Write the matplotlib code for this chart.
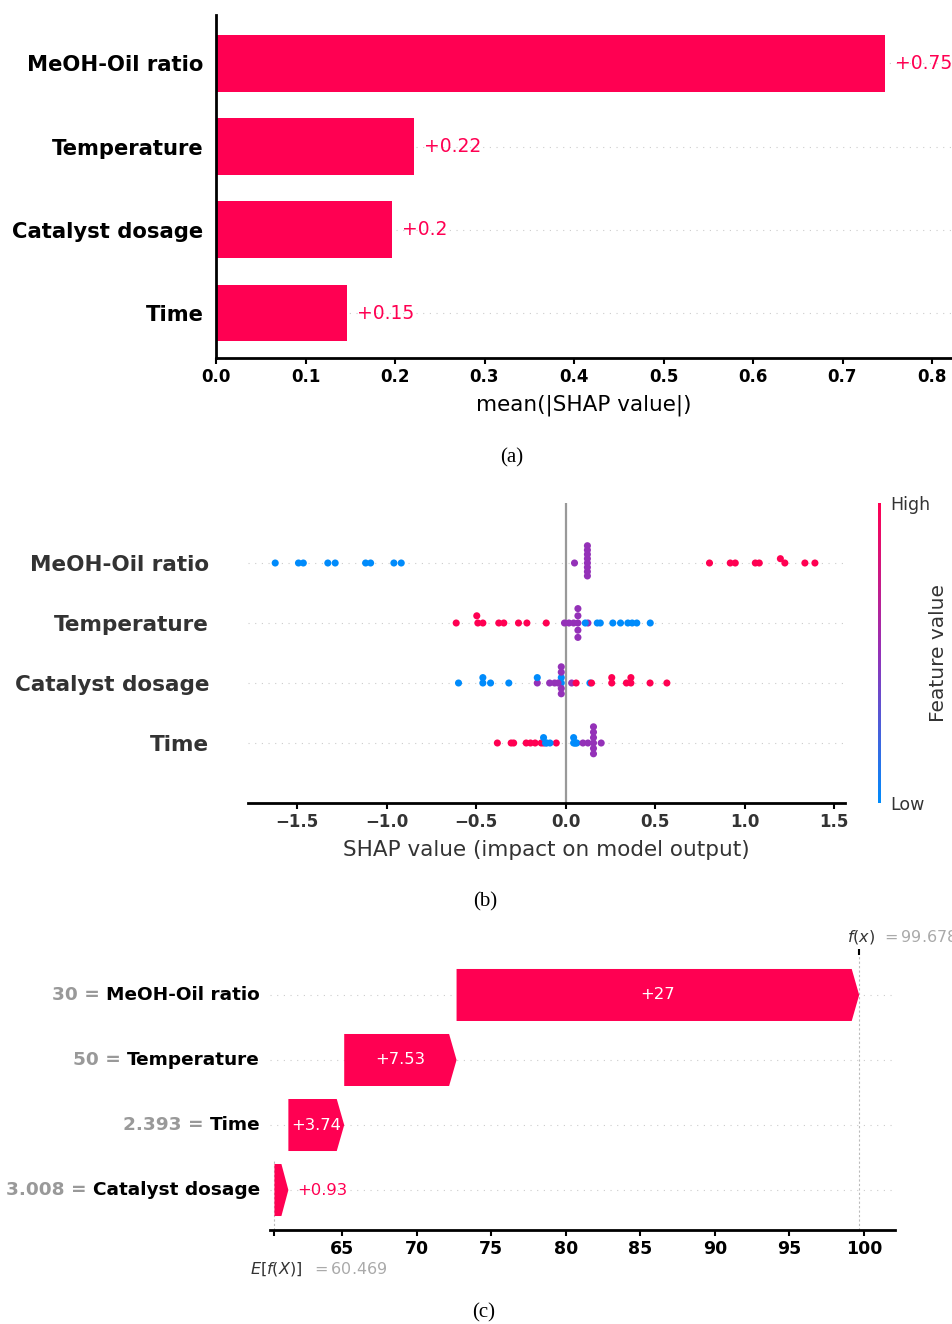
import numpy as np
import matplotlib
matplotlib.use("Agg")
import matplotlib.pyplot as plt
import matplotlib.transforms as mtransforms
from matplotlib.colors import LinearSegmentedColormap, Normalize
from matplotlib.cm import ScalarMappable
from matplotlib.patches import FancyArrow

# ---------------- data ----------------
features = ["MeOH-Oil ratio", "Temperature", "Catalyst dosage", "Time"]

# (a) mean(|SHAP value|)
mean_abs_shap = [0.748, 0.221, 0.197, 0.146]
bar_xticks = [0.0, 0.1, 0.2, 0.3, 0.4, 0.5, 0.6, 0.7, 0.8]

# (b) SHAP value per sample, feature level 0 = low, 1 = mid, 2 = high
meoh_shap = [-1.622, -1.492, -1.465, -1.328, -1.287, -1.117, -1.089, -0.959, -0.918,
             0.050, 0.122, 0.122, 0.122, 0.122, 0.122, 0.122, 0.122, 0.122,
             0.804, 0.920, 0.948, 1.060, 1.082, 1.225, 1.200, 1.337, 1.393]
meoh_level = [0] * 9 + [1] * 9 + [2] * 9

temp_shap = [-0.611, -0.490, -0.496, -0.462, -0.373, -0.345, -0.263, -0.216, -0.108,
             -0.006, 0.019, 0.045, 0.069, 0.069, 0.069, 0.069, 0.069, 0.125,
             0.110, 0.177, 0.194, 0.264, 0.307, 0.348, 0.372, 0.398, 0.473]
temp_level = [2] * 9 + [1] * 9 + [0] * 9

cat_shap = [-0.158,
            -0.598, -0.462, -0.462, -0.419, -0.317, -0.158, -0.024, -0.024, 0.136,
            -0.089, -0.061, -0.042, -0.024, -0.024, -0.024, -0.024, 0.034,
            0.059, 0.145, 0.258, 0.258, 0.340, 0.365, 0.365, 0.472, 0.566]
cat_level = [1] + [0] * 9 + [1] * 8 + [2] * 9

time_shap = [-0.381, -0.304, -0.290, -0.220, -0.196, -0.170, -0.136, -0.123, -0.052,
             -0.123, -0.112, -0.105, -0.087, 0.045, 0.045, 0.051, 0.057, 0.063,
             0.097, 0.125, 0.156, 0.156, 0.156, 0.156, 0.156, 0.156, 0.199]
time_level = [2] * 9 + [0] * 9 + [1] * 9

swarm_xticks = [-1.5, -1.0, -0.5, 0.0, 0.5, 1.0, 1.5]

# (c) waterfall for one sample (top to bottom)
wf_features = ["MeOH-Oil ratio", "Temperature", "Time", "Catalyst dosage"]
wf_values = ["30", "50", "2.393", "3.008"]
wf_shap = [26.998, 7.534, 3.744, 0.933]
base_value = 60.469
fx_value = 99.678
wf_xticks = [65, 70, 75, 80, 85, 90, 95, 100]

# ---------------- style ----------------
RED = "#ff0052"
cmap = LinearSegmentedColormap.from_list("red_blue", ["#008bfb", "#9431b8", "#ff0052"])
norm = Normalize(0, 2)
W, H = 952, 1324


def fmt(v):
    s = "%+0.2f" % v
    if "." in s:
        s = s.rstrip("0").rstrip(".")
    return s


def px_axes(left, top, right, bottom):
    return fig.add_axes([left / W, 1 - bottom / H, (right - left) / W, (bottom - top) / H])


def swarm(vals, nbins=100, row_height=0.4):
    # beeswarm offsets, same idea as shap
    vals = np.asarray(vals, dtype=float)
    quant = np.round(nbins * (vals - vals.min()) / (vals.max() - vals.min() + 1e-8))
    order = np.argsort(quant, kind="stable")
    ys = np.zeros(len(vals))
    layer = 0
    last = -1
    for i in order:
        if quant[i] != last:
            layer = 0
        ys[i] = np.ceil(layer / 2) * ((layer % 2) * 2 - 1)
        layer += 1
        last = quant[i]
    ys *= 0.9 * (row_height / np.max(ys + 1))
    return ys


fig = plt.figure(figsize=(W / 100, H / 100), dpi=100)
renderer = fig.canvas.get_renderer()

# ---------------- (a) bar ----------------
ax = px_axes(216, 15, 952, 358)
pos = [3, 2, 1, 0]
for p in pos:
    ax.axhline(p, color="#cccccc", lw=0.8, dashes=(1, 5), zorder=0)
ax.barh(pos, mean_abs_shap, height=0.68, color=RED, zorder=2)
off = mtransforms.offset_copy(ax.transData, fig=fig, x=10, y=0, units="dots")
for p, v in zip(pos, mean_abs_shap):
    ax.text(v, p, fmt(v), transform=off, color=RED, va="center", ha="left", fontsize=13.5)
ax.set_xlim(0, (952 - 216) / 895)
ax.set_ylim(-0.54, 3.58)
ax.set_yticks(pos, labels=features, fontsize=15.2, fontweight="bold")
ax.set_xticks(bar_xticks, labels=["%.1f" % t for t in bar_xticks], fontsize=12, fontweight="bold")
ax.tick_params(axis="y", length=0, pad=9)
ax.tick_params(axis="x", length=4, width=1.5)
for s in ["top", "right"]:
    ax.spines[s].set_visible(False)
for s in ["left", "bottom"]:
    ax.spines[s].set_linewidth(2)
ax.set_xlabel("mean(|SHAP value|)", fontsize=15.5, labelpad=6)

# ---------------- (b) beeswarm ----------------
ax = px_axes(248, 503, 845, 803)
rows = [(meoh_shap, meoh_level), (temp_shap, temp_level),
        (cat_shap, cat_level), (time_shap, time_level)]
ax.axvline(0, color="#999999", lw=1.6, zorder=1)
for p, (sv, lv) in zip(pos, rows):
    ax.axhline(p, color="#cccccc", lw=0.8, dashes=(1, 5), zorder=0)
    ys = swarm(sv)
    ax.scatter(sv, p + ys, c=lv, cmap=cmap, norm=norm, s=26, linewidths=0, zorder=3)
ax.set_xlim(-1.774, 1.561)
ax.set_ylim(-1, 4)
ax.set_yticks(pos, labels=features, fontsize=15.5, fontweight="bold", color="#333333")
ax.set_xticks(swarm_xticks, labels=[("%.1f" % t).replace("-", "\u2212") for t in swarm_xticks],
              fontsize=12, fontweight="bold", color="#333333")
ax.tick_params(axis="y", length=0, pad=28)
ax.tick_params(axis="x", length=4, width=1.5)
for s in ["top", "right", "left"]:
    ax.spines[s].set_visible(False)
ax.spines["bottom"].set_linewidth(2)
ax.set_xlabel("SHAP value (impact on model output)", fontsize=15.5, color="#333333", labelpad=6)

cax = px_axes(878, 503, 881, 803)
cb = fig.colorbar(ScalarMappable(norm=norm, cmap=cmap), cax=cax, ticks=[0, 2])
cb.set_ticklabels(["Low", "High"])
cb.outline.set_visible(False)
cax.tick_params(length=0, labelsize=12.5, pad=7, labelcolor="#333333")
fig.text(938 / W, 1 - 653 / H, "Feature value", rotation=90, ha="center", va="center",
         fontsize=14.5, color="#333333")

# ---------------- (c) waterfall ----------------
ax = px_axes(270, 955, 895, 1230)
wf_pos = [3, 2, 1, 0]
xmin, xmax = 60.17, 102.08
ax.set_xlim(xmin, xmax)
ax.set_ylim(-0.615, 3.615)
for p in wf_pos:
    ax.axhline(p, color="#cccccc", lw=0.8, dashes=(1, 5), zorder=0)
ax.axvline(fx_value, 0, 1, color="#bbbbbb", ls=(0, (2, 2)), lw=0.8, zorder=0)
ax.axvline(base_value, 0, 0.25, color="#bbbbbb", ls=(0, (2, 2)), lw=0.8, zorder=0)

lefts = []
cum = base_value
for v in reversed(wf_shap):
    lefts.append(cum)
    cum += v
lefts = lefts[::-1]

off_r = mtransforms.offset_copy(ax.transData, fig=fig, x=9, y=0, units="dots")
for p, v, left in zip(wf_pos, wf_shap, lefts):
    hl = min(0.5, 0.5 * v)
    ax.add_patch(FancyArrow(left, p, v, 0, width=0.8, head_width=0.8, head_length=hl,
                            length_includes_head=True, color=RED, lw=0, zorder=2))
    if v > 3:
        ax.text(left + v / 2, p, fmt(v), color="white", ha="center", va="center", fontsize=11.8, zorder=3)
    else:
        ax.text(left + v, p, fmt(v), transform=off_r, color=RED, ha="left", va="center", fontsize=11.8)

# feature names in black, their values in gray just left of them
lab_tr = mtransforms.offset_copy(ax.get_yaxis_transform(), fig=fig, x=-10, y=0, units="dots")
for p, name, val in zip(wf_pos, wf_features, wf_values):
    t = ax.text(0, p, name, transform=lab_tr, ha="right", va="center",
                fontsize=13.3, fontweight="bold", color="black")
    wname = t.get_window_extent(renderer).width
    gray_tr = mtransforms.offset_copy(ax.get_yaxis_transform(), fig=fig,
                                      x=-10 - wname - 6, y=0, units="dots")
    ax.text(0, p, val + " =", transform=gray_tr, ha="right", va="center",
            fontsize=13.3, fontweight="bold", color="#999999")
ax.set_yticks([])
ax.set_xticks([base_value] + wf_xticks, labels=[""] + [str(t) for t in wf_xticks],
              fontsize=12.5, fontweight="bold")
ax.tick_params(axis="x", length=4, width=1.5)
for s in ["top", "right", "left"]:
    ax.spines[s].set_visible(False)
ax.spines["bottom"].set_linewidth(2)

top = ax.twiny()
top.set_xlim(xmin, xmax)
top.set_xticks([fx_value], labels=[""])
top.tick_params(length=4, width=1.5)
for s in top.spines.values():
    s.set_visible(False)

bx = ax.get_xaxis_transform()
ax.text(base_value, 0, "$E[f(X)]$", transform=mtransforms.offset_copy(bx, fig=fig, x=2, y=-39, units="dots"),
        ha="center", va="center", fontsize=11.5, color="#333333")
ax.text(base_value, 0, "$= 60.469$", transform=mtransforms.offset_copy(bx, fig=fig, x=37, y=-39, units="dots"),
        ha="left", va="center", fontsize=11.5, color="#aaaaaa")
ax.text(fx_value, 1, "$f(x)$", transform=mtransforms.offset_copy(bx, fig=fig, x=2, y=18, units="dots"),
        ha="center", va="center", fontsize=11.5, color="#333333")
ax.text(fx_value, 1, "$= 99.678$", transform=mtransforms.offset_copy(bx, fig=fig, x=22, y=18, units="dots"),
        ha="left", va="center", fontsize=11.5, color="#aaaaaa")

# ---------------- captions ----------------
for x, y, t in [(512, 458, "(a)"), (485, 902, "(b)"), (484, 1313, "(c)")]:
    fig.text(x / W, 1 - y / H, t, ha="center", va="center", fontsize=15, family="Liberation Serif")

fig.savefig("out.png", dpi=100)
